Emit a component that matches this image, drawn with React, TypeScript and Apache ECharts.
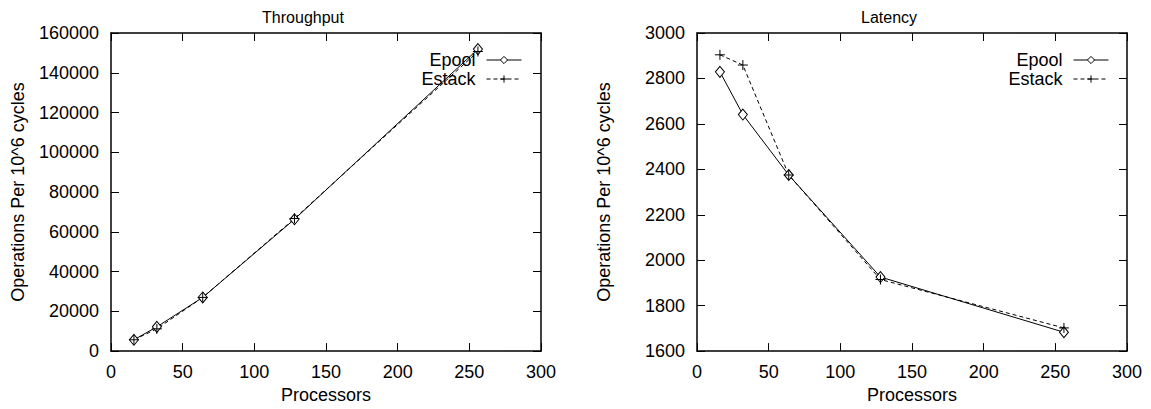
import React, { useEffect, useRef } from "react";
import * as echarts from "echarts";

const processors = [16, 32, 64, 128, 256];
const throughputEpool = [5700, 12200, 27000, 66300, 151900];
const throughputEstack = [5700, 11200, 27000, 66700, 150700];
const latencyEpool = [2829, 2641, 2375, 1926, 1683];
const latencyEstack = [2904, 2859, 2375, 1915, 1702];

const FONT = "Liberation Sans, Arial, Helvetica, sans-serif";
const PLUS = "path://M0,-5L0,5M-5,0L5,0";
const FS = 18;

export default function App() {
  const ref = useRef<HTMLDivElement>(null);
  useEffect(() => {
    document.body.style.margin = "0";
    const chart = echarts.init(ref.current!, null, { renderer: "svg" });
    const grids = [
      { left: 111, top: 33, width: 430, height: 328 },
      { left: 697, top: 33, width: 430, height: 328 },
    ];
    const axisLine = { show: true, onZero: false, lineStyle: { color: "#000", width: 1.5 } };
    const axisTick = { show: true, inside: true, length: 8, lineStyle: { color: "#000", width: 1 } };
    const label = {
      color: "#000", fontSize: FS, fontFamily: FONT, margin: 12,
      formatter: (v: number) => String(v),
    };
    const nameStyle = { color: "#000", fontSize: FS, fontFamily: FONT };
    const xAxes: any[] = [];
    const yAxes: any[] = [];
    const yRanges = [
      { min: 0, max: 160000, interval: 20000 },
      { min: 1600, max: 3000, interval: 200 },
    ];
    [0, 1].forEach((g) => {
      xAxes.push({
        type: "value", gridIndex: g, position: "bottom", min: 0, max: 300, interval: 50,
        name: "Processors", nameLocation: "middle", nameGap: 27, nameTextStyle: nameStyle,
        axisLine, axisTick, axisLabel: label, splitLine: { show: false },
      });
      xAxes.push({
        type: "value", gridIndex: g, position: "top", min: 0, max: 300, interval: 50,
        axisLine, axisTick, axisLabel: { show: false }, splitLine: { show: false },
      });
      yAxes.push({
        type: "value", gridIndex: g, position: "left", ...yRanges[g],
        name: "Operations Per 10^6 cycles", nameLocation: "middle", nameGap: 84,
        nameTextStyle: nameStyle,
        axisLine, axisTick, axisLabel: label, splitLine: { show: false },
      });
      yAxes.push({
        type: "value", gridIndex: g, position: "right", ...yRanges[g],
        axisLine, axisTick, axisLabel: { show: false }, splitLine: { show: false },
      });
    });
    const mk = (name: string, data: number[], idx: number, dashed: boolean) => ({
      type: "line",
      name,
      xAxisIndex: idx * 2,
      yAxisIndex: idx * 2,
      data: processors.map((p, i) => [p, data[i]]),
      symbol: dashed ? PLUS : "diamond",
      symbolSize: dashed ? 10 : [9, 11],
      showSymbol: true,
      lineStyle: { color: "#000", width: 1, type: dashed ? [4, 3] : "solid" },
      itemStyle: dashed
        ? { color: "#000", borderColor: "#000", borderWidth: 1 }
        : { color: "#fff", borderColor: "#000", borderWidth: 1 },
      emphasis: { disabled: true },
    });
    const legendBase = {
      orient: "vertical",
      align: "right",
      top: 51,
      padding: 0,
      itemWidth: 35,
      itemHeight: 9,
      itemGap: 1,
      textStyle: { color: "#000", fontSize: FS, fontFamily: FONT, padding: [0, 6, 0, 0] },
      lineStyle: { width: 1 },
      itemStyle: { borderWidth: 1 },
      data: ["Epool", "Estack"],
      selectedMode: false,
    };
    chart.setOption({
      animation: false,
      title: [
        { text: "Throughput", left: 298, top: 4, textAlign: "center",
          textStyle: { color: "#000", fontSize: 16, fontWeight: "normal", fontFamily: FONT } },
        { text: "Latency", left: 884, top: 4, textAlign: "center",
          textStyle: { color: "#000", fontSize: 16, fontWeight: "normal", fontFamily: FONT } },
      ],
      legend: [
        { ...legendBase, right: 629 },
        { ...legendBase, right: 42 },
      ],
      grid: grids,
      xAxis: xAxes,
      yAxis: yAxes,
      series: [
        mk("Epool", throughputEpool, 0, false),
        mk("Estack", throughputEstack, 0, true),
        mk("Epool", latencyEpool, 1, false),
        mk("Estack", latencyEstack, 1, true),
      ],
    });
    return () => chart.dispose();
  }, []);
  return <div ref={ref} style={{ width: 1151, height: 409 }} />;
}
